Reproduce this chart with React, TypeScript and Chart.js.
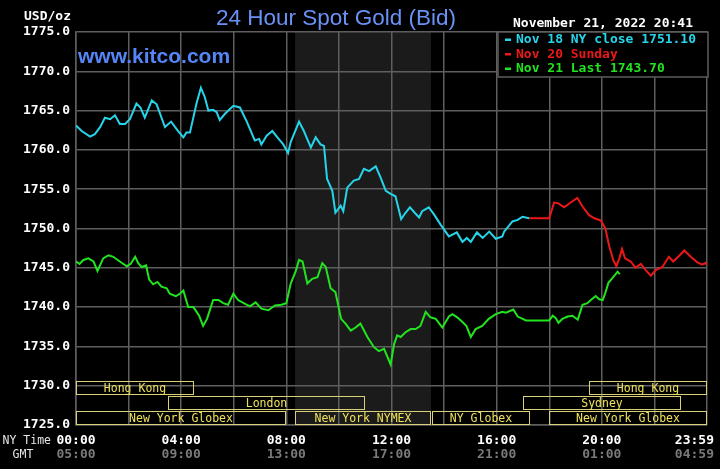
import React, { useEffect, useRef } from "react";
import { Chart, registerables } from "chart.js";
Chart.register(...registerables);

// ---- data (x = minutes after 00:00 NY time) ----
const cyanMinutes = [0, 13, 32, 43, 55, 66, 78, 89, 100, 112, 123, 138, 147, 157, 173, 184, 203, 217, 233, 245, 252, 260, 275, 285, 294, 302, 313, 321, 328, 340, 359, 374, 389, 408, 418, 423, 435, 448, 461, 473, 484, 490, 509, 520, 536, 547, 558, 566, 573, 585, 592, 604, 610, 619, 634, 646, 657, 669, 684, 695, 707, 718, 729, 742, 752, 762, 773, 783, 790, 805, 817, 832, 851, 869, 882, 892, 901, 915, 928, 943, 958, 973, 977, 996, 1008, 1019, 1034];
const cyanValues = [1763.1, 1762.4, 1761.7, 1762.0, 1762.9, 1764.1, 1763.9, 1764.4, 1763.3, 1763.3, 1763.9, 1765.9, 1765.4, 1764.1, 1766.3, 1765.8, 1762.9, 1763.6, 1762.4, 1761.6, 1762.2, 1762.2, 1765.9, 1767.9, 1766.7, 1765.0, 1765.1, 1764.8, 1763.8, 1764.6, 1765.6, 1765.4, 1763.7, 1761.2, 1761.4, 1760.7, 1761.8, 1762.4, 1761.5, 1760.7, 1759.6, 1761.0, 1763.6, 1762.4, 1760.3, 1761.6, 1760.7, 1760.5, 1756.3, 1754.8, 1752.0, 1752.9, 1752.2, 1755.2, 1756.1, 1756.3, 1757.6, 1757.3, 1757.9, 1756.5, 1754.8, 1754.4, 1754.1, 1751.2, 1752.0, 1752.7, 1752.0, 1751.4, 1752.2, 1752.7, 1751.8, 1750.5, 1749.0, 1749.5, 1748.3, 1748.8, 1748.3, 1749.5, 1748.8, 1749.6, 1748.7, 1749.0, 1749.6, 1750.9, 1751.1, 1751.5, 1751.3];

const redMinutes = [1034, 1080, 1091, 1101, 1114, 1129, 1144, 1156, 1171, 1183, 1198, 1208, 1217, 1226, 1233, 1240, 1246, 1253, 1266, 1277, 1289, 1300, 1312, 1323, 1338, 1353, 1363, 1376, 1388, 1403, 1418, 1429, 1436, 1439];
const redValues = [1751.3, 1751.3, 1753.3, 1753.2, 1752.7, 1753.3, 1753.9, 1752.8, 1751.7, 1751.3, 1751.0, 1750.0, 1747.7, 1746.0, 1745.2, 1746.2, 1747.4, 1746.2, 1745.8, 1745.0, 1745.5, 1744.7, 1744.0, 1744.7, 1745.1, 1746.4, 1745.8, 1746.5, 1747.2, 1746.4, 1745.7, 1745.4, 1745.6, 1745.4];

const greenMinutes = [0, 8, 17, 28, 40, 49, 62, 74, 85, 100, 116, 125, 135, 142, 150, 160, 167, 176, 186, 195, 207, 214, 228, 237, 245, 256, 268, 281, 290, 299, 313, 325, 336, 347, 359, 370, 386, 397, 410, 423, 439, 454, 469, 480, 490, 501, 509, 517, 528, 539, 551, 562, 570, 581, 592, 605, 615, 627, 638, 649, 665, 680, 691, 703, 718, 726, 733, 741, 752, 764, 775, 786, 798, 809, 821, 836, 851, 859, 870, 882, 891, 901, 912, 927, 942, 958, 973, 981, 998, 1008, 1027, 1080, 1088, 1095, 1101, 1110, 1122, 1133, 1145, 1156, 1167, 1175, 1186, 1194, 1202, 1208, 1215, 1224, 1236, 1241];
const greenValues = [1745.8, 1745.5, 1746.0, 1746.2, 1745.8, 1744.6, 1746.2, 1746.6, 1746.4, 1745.8, 1745.2, 1745.5, 1746.4, 1745.6, 1745.1, 1745.3, 1743.5, 1742.9, 1743.2, 1742.6, 1742.4, 1741.7, 1741.4, 1741.7, 1742.1, 1740.0, 1740.0, 1738.9, 1737.6, 1738.5, 1740.9, 1740.9, 1740.5, 1740.3, 1741.7, 1740.9, 1740.4, 1740.1, 1740.6, 1739.8, 1739.6, 1740.2, 1740.3, 1740.5, 1743.0, 1744.5, 1746.0, 1745.8, 1743.0, 1743.6, 1743.8, 1745.6, 1745.1, 1742.4, 1741.9, 1738.5, 1737.9, 1737.0, 1737.4, 1737.9, 1736.2, 1734.9, 1734.4, 1734.7, 1732.7, 1735.3, 1736.4, 1736.2, 1736.8, 1737.2, 1737.2, 1737.6, 1739.4, 1738.7, 1738.5, 1737.4, 1738.8, 1739.1, 1738.7, 1738.1, 1737.6, 1736.2, 1737.2, 1737.6, 1738.5, 1739.1, 1739.4, 1739.3, 1739.7, 1738.8, 1738.3, 1738.3, 1738.9, 1738.6, 1738.0, 1738.5, 1738.8, 1738.9, 1738.4, 1740.3, 1740.5, 1740.9, 1741.4, 1741.0, 1740.9, 1741.8, 1743.1, 1743.7, 1744.5, 1744.2];

const legendLabels = ["Nov 18 NY close 1751.10", "Nov 20 Sunday", "Nov 21 Last 1743.70"];
const seriesColors = ["#26d4ea", "#ec1818", "#22e41e"];

const xTickMinutes = [0, 240, 480, 720, 960, 1200, 1439];
const nyTickLabels = ["00:00", "04:00", "08:00", "12:00", "16:00", "20:00", "23:59"];
const gmtTickLabels = ["05:00", "09:00", "13:00", "17:00", "21:00", "01:00", "04:59"];

const sessionNames = ["Hong Kong", "London", "New York Globex", "New York NYMEX", "NY Globex", "Sydney", "New York Globex", "Hong Kong"];
const sessionStart = [0, 210, 0, 500, 812, 1020, 1080, 1170];
const sessionEnd = [270, 660, 480, 810, 1035, 1380, 1440, 1440];
const sessionRow = [0, 1, 2, 2, 2, 1, 2, 0];
const rowTop = [1730.6, 1728.7, 1726.8];
const rowBottom = [1728.8, 1726.9, 1725.0];
const nymexShade = [500, 810];

const titleText = "24 Hour Spot Gold (Bid)";
const siteText = "www.kitco.com";
const dateText = "November 21, 2022 20:41";

const MONO = "'DejaVu Sans Mono', 'Liberation Mono', monospace";
const GRID = "#5e5e5e";

const decor = {
  id: "decor",
  beforeDraw(chart: any) {
    const { ctx, chartArea: a, scales } = chart;
    const x = scales.x;
    ctx.save();
    ctx.fillStyle = "#000";
    ctx.fillRect(0, 0, chart.width, chart.height);
    const s = x.getPixelForValue(nymexShade[0]);
    const e = x.getPixelForValue(nymexShade[1]);
    ctx.fillStyle = "#1b1b1b";
    ctx.fillRect(s, a.top, e - s, a.bottom - a.top);
    ctx.restore();
  },
  afterDraw(chart: any) {
    const { ctx, chartArea: a, scales } = chart;
    const x = scales.x;
    const y = scales.y;
    ctx.save();

    // sessions
    ctx.lineWidth = 1;
    ctx.strokeStyle = "#d9d07a";
    ctx.fillStyle = "#efe25a";
    ctx.font = `11.5px ${MONO}`;
    ctx.textAlign = "center";
    ctx.textBaseline = "middle";
    sessionNames.forEach((name, i) => {
      const x1 = Math.round(x.getPixelForValue(sessionStart[i])) + 0.5;
      const x2 = Math.round(Math.min(x.getPixelForValue(sessionEnd[i]), a.right)) - 0.5;
      const r = sessionRow[i];
      const y1 = Math.round(y.getPixelForValue(rowTop[r])) + 0.5;
      const y2 = Math.round(y.getPixelForValue(rowBottom[r])) - 0.5;
      ctx.strokeRect(x1, y1, x2 - x1, y2 - y1);
      ctx.fillText(name, (x1 + x2) / 2, (y1 + y2) / 2 + 1);
    });

    // legend box
    const lw = 210, lh = 45;
    const lx = a.right + 1 - lw, ly = a.top;
    ctx.fillStyle = "#000";
    ctx.fillRect(lx, ly, lw, lh);
    ctx.strokeStyle = GRID;
    ctx.lineWidth = 1.5;
    ctx.strokeRect(lx, ly, lw, lh);
    ctx.font = `bold 13px ${MONO}`;
    ctx.textAlign = "left";
    ctx.textBaseline = "middle";
    legendLabels.forEach((t, i) => {
      const cy = ly + 7.5 + i * 14.5;
      ctx.fillStyle = seriesColors[i];
      ctx.fillRect(lx + 7, cy - 1, 6, 2.5);
      ctx.fillText(t, lx + 18, cy + 0.5);
    });

    // title + site
    ctx.textBaseline = "alphabetic";
    ctx.textAlign = "center";
    ctx.fillStyle = "#6a92f6";
    ctx.font = "22.5px 'Liberation Sans', Arial, sans-serif";
    ctx.fillText(titleText, 336, 25);
    ctx.textAlign = "left";
    ctx.fillStyle = "#5685f8";
    ctx.font = "bold 21px 'Liberation Sans', Arial, sans-serif";
    ctx.fillText(siteText, a.left + 2, 63);

    // date
    ctx.fillStyle = "#ffffff";
    ctx.font = `bold 13px ${MONO}`;
    ctx.textAlign = "center";
    ctx.fillText(dateText, 603, 27);

    // units
    ctx.textAlign = "right";
    ctx.fillText("USD/oz", a.left - 5, 20);

    // x labels
    ctx.font = `11.5px ${MONO}`;
    ctx.fillStyle = "#e6e6e6";
    ctx.textAlign = "right";
    ctx.fillText("NY Time", 51, 444);
    ctx.textAlign = "center";
    ctx.fillText("GMT", 23, 458);

    ctx.font = `bold 13px ${MONO}`;
    xTickMinutes.forEach((m, i) => {
      let px = x.getPixelForValue(m);
      const half = ctx.measureText(nyTickLabels[i]).width / 2;
      if (px + half > chart.width - 6) px = chart.width - 6 - half;
      ctx.fillStyle = "#ffffff";
      ctx.fillText(nyTickLabels[i], px, 443.5);
      ctx.fillStyle = "#7a7a7a";
      ctx.fillText(gmtTickLabels[i], px, 458);
    });
    ctx.restore();
  },
};

export default function App() {
  const ref = useRef<HTMLCanvasElement>(null);
  useEffect(() => {
    document.body.style.margin = "0";
    document.body.style.background = "#000";
    const canvas = ref.current!;
    const mk = (mins: number[], vals: number[], color: string) => ({
      data: mins.map((m, i) => ({ x: m, y: vals[i] })),
      borderColor: color,
      borderWidth: 2,
      pointRadius: 0,
      tension: 0,
      fill: false,
    });
    const chart = new Chart(canvas, {
      type: "line",
      data: {
        datasets: [
          mk(cyanMinutes, cyanValues, seriesColors[0]),
          mk(redMinutes, redValues, seriesColors[1]),
          mk(greenMinutes, greenValues, seriesColors[2]),
        ],
      },
      options: {
        responsive: false,
        animation: false,
        devicePixelRatio: 1,
        layout: { padding: { top: 32, right: 13, bottom: 44, left: 0 } },
        plugins: {
          legend: { display: false },
          tooltip: { enabled: false },
          title: { display: false },
        },
        scales: {
          x: {
            type: "linear",
            min: 0,
            max: 1440,
            ticks: { display: false, stepSize: 120 },
            grid: { color: GRID, lineWidth: 1.5, drawTicks: false },
            border: { color: GRID, width: 1.5 },
            afterFit: (s: any) => {
              s.height = 0;
            },
          },
          y: {
            min: 1725,
            max: 1775,
            ticks: {
              stepSize: 5,
              padding: 6,
              color: "#ffffff",
              font: { family: MONO, size: 13, weight: "bold" },
              callback: (v: any) => Number(v).toFixed(1),
            },
            grid: { color: GRID, lineWidth: 1.5, drawTicks: false },
            border: { color: GRID, width: 1.5 },
            afterFit: (s: any) => {
              s.width = 76;
            },
          },
        },
      } as any,
      plugins: [decor],
    });
    return () => chart.destroy();
  }, []);
  return (
    <div style={{ position: "fixed", left: 0, top: 0, width: 720, height: 469, background: "#000" }}>
      <canvas ref={ref} width={720} height={469} style={{ display: "block", width: 720, height: 469 }} />
    </div>
  );
}
